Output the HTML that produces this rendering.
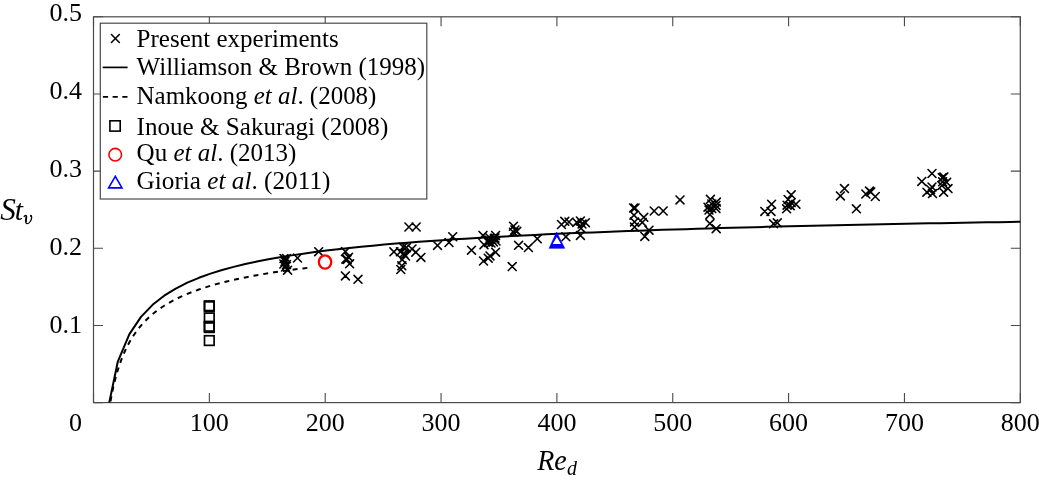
<!DOCTYPE html>
<html><head><meta charset="utf-8"><title>St vs Re</title>
<style>html,body{margin:0;padding:0;background:#fff;}body{width:1039px;height:483px;overflow:hidden;}svg{display:block;will-change:transform;}text{font-family:"Liberation Serif", serif;fill:#000;}</style></head><body>
<svg width="1039" height="483" viewBox="0 0 1039 483">
<rect x="0" y="0" width="1039" height="483" fill="#fff"/>
<defs><clipPath id="pa"><rect x="93.50" y="16.80" width="926.80" height="385.80"/></clipPath></defs>
<path d="M93.50 402.60V393.10M93.50 16.80V26.30M209.35 402.60V393.10M209.35 16.80V26.30M325.20 402.60V393.10M325.20 16.80V26.30M441.05 402.60V393.10M441.05 16.80V26.30M556.90 402.60V393.10M556.90 16.80V26.30M672.75 402.60V393.10M672.75 16.80V26.30M788.60 402.60V393.10M788.60 16.80V26.30M904.45 402.60V393.10M904.45 16.80V26.30M1020.30 402.60V393.10M1020.30 16.80V26.30M93.50 402.60H103.00M1020.30 402.60H1010.80M93.50 325.44H103.00M1020.30 325.44H1010.80M93.50 248.28H103.00M1020.30 248.28H1010.80M93.50 171.12H103.00M1020.30 171.12H1010.80M93.50 93.96H103.00M1020.30 93.96H1010.80M93.50 16.80H103.00M1020.30 16.80H1010.80" stroke="#4a4a4a" stroke-width="1.1" fill="none"/>
<rect x="93.50" y="16.80" width="926.80" height="385.80" stroke="#4a4a4a" stroke-width="1.2" fill="none"/>
<g clip-path="url(#pa)">
<polyline points="106.24,416.97 117.83,361.55 129.41,334.11 141.00,316.91 152.58,304.83 164.17,295.72 175.75,288.55 187.34,282.70 198.92,277.81 210.51,273.64 222.09,270.03 233.68,266.87 245.26,264.06 256.85,261.55 268.43,259.29 280.02,257.24 291.60,255.37 303.19,253.65 314.77,252.06 326.36,250.59 337.94,249.23 349.53,247.96 361.11,246.76 372.70,245.65 384.28,244.60 395.87,243.60 407.45,242.67 419.04,241.78 430.62,240.94 442.21,240.14 453.79,239.37 465.38,238.65 476.96,237.95 488.55,237.29 500.13,236.65 511.72,236.04 523.30,235.46 534.89,234.89 546.47,234.35 558.06,233.83 569.64,233.33 581.23,232.84 592.81,232.38 604.40,231.92 615.98,231.49 627.57,231.06 639.15,230.65 650.74,230.26 662.32,229.87 673.91,229.50 685.49,229.14 697.08,228.78 708.66,228.44 720.25,228.11 731.83,227.78 743.42,227.47 755.00,227.16 766.59,226.86 778.17,226.57 789.76,226.28 801.34,226.01 812.93,225.74 824.51,225.47 836.10,225.21 847.68,224.96 859.27,224.71 870.85,224.47 882.44,224.24 894.02,224.00 905.61,223.78 917.19,223.56 928.78,223.34 940.36,223.13 951.95,222.92 963.53,222.72 975.12,222.52 986.70,222.32 998.29,222.13 1009.87,221.94 1021.46,221.75" fill="none" stroke="#000" stroke-width="2" stroke-linejoin="round"/>
<polyline points="106.24,430.96 108.56,413.11 110.88,399.05 113.19,387.61 115.51,378.08 117.83,369.97 120.15,362.97 122.46,356.85 124.78,351.43 127.10,346.59 129.41,342.24 131.73,338.30 134.05,334.71 136.36,331.42 138.68,328.38 141.00,325.58 143.32,322.98 145.63,320.56 147.95,318.29 150.27,316.17 152.58,314.18 154.90,312.30 157.22,310.52 159.53,308.85 161.85,307.25 164.17,305.74 169.96,302.28 175.75,299.19 181.55,296.41 187.34,293.90 193.13,291.61 198.92,289.52 204.72,287.59 210.51,285.81 216.30,284.16 222.09,282.63 227.89,281.19 233.68,279.85 239.47,278.58 245.26,277.40 251.06,276.27 256.85,275.21 262.64,274.21 268.43,273.25 274.23,272.34 280.02,271.48 285.81,270.65 291.60,269.86 297.40,269.11 303.19,268.39 308.98,267.69" fill="none" stroke="#000" stroke-width="2" stroke-dasharray="5.0 4.9" stroke-dashoffset="9.55"/>
</g>
<path d="M280.05 254.55L287.95 262.45M280.05 262.45L287.95 254.55M282.55 254.55L290.45 262.45M282.55 262.45L290.45 254.55M281.05 257.55L288.95 265.45M281.05 265.45L288.95 257.55M279.85 260.05L287.75 267.95M279.85 267.95L287.75 260.05M282.55 260.55L290.45 268.45M282.55 268.45L290.45 260.55M281.55 263.05L289.45 270.95M281.55 270.95L289.45 263.05M283.65 266.25L291.55 274.15M283.65 274.15L291.55 266.25M293.55 254.05L301.45 261.95M293.55 261.95L301.45 254.05M314.75 247.75L322.65 255.65M314.75 255.65L322.65 247.75M341.45 247.65L349.35 255.55M341.45 255.55L349.35 247.65M341.85 255.15L349.75 263.05M341.85 263.05L349.75 255.15M344.65 253.25L352.55 261.15M344.65 261.15L352.55 253.25M343.25 255.55L351.15 263.45M343.25 263.45L351.15 255.55M345.65 259.85L353.55 267.75M345.65 267.75L353.55 259.85M341.45 271.95L349.35 279.85M341.45 279.85L349.35 271.95M354.05 275.35L361.95 283.25M354.05 283.25L361.95 275.35M404.95 223.05L412.85 230.95M404.95 230.95L412.85 223.05M412.25 223.05L420.15 230.95M412.25 230.95L420.15 223.05M389.95 247.85L397.85 255.75M389.95 255.75L397.85 247.85M399.25 243.15L407.15 251.05M399.25 251.05L407.15 243.15M402.45 243.65L410.35 251.55M402.45 251.55L410.35 243.65M396.45 247.85L404.35 255.75M396.45 255.75L404.35 247.85M399.65 249.65L407.55 257.55M399.65 257.55L407.55 249.65M400.65 251.05L408.55 258.95M400.65 258.95L408.55 251.05M408.05 245.05L415.95 252.95M408.05 252.95L415.95 245.05M411.85 248.25L419.75 256.15M411.85 256.15L419.75 248.25M416.95 253.45L424.85 261.35M416.95 261.35L424.85 253.45M398.25 255.75L406.15 263.65M398.25 263.65L406.15 255.75M397.85 261.85L405.75 269.75M397.85 269.75L405.75 261.85M396.85 265.55L404.75 273.45M396.85 273.45L404.75 265.55M401.55 252.05L409.45 259.95M401.55 259.95L409.45 252.05M433.55 241.45L441.45 249.35M433.55 249.35L441.45 241.45M445.05 238.55L452.95 246.45M445.05 246.45L452.95 238.55M448.75 232.75L456.65 240.65M448.75 240.65L456.65 232.75M467.55 246.25L475.45 254.15M467.55 254.15L475.45 246.25M479.05 231.45L486.95 239.35M479.05 239.35L486.95 231.45M491.65 231.45L499.55 239.35M491.65 239.35L499.55 231.45M485.05 236.05L492.95 243.95M485.05 243.95L492.95 236.05M488.05 236.05L495.95 243.95M488.05 243.95L495.95 236.05M490.05 235.05L497.95 242.95M490.05 242.95L497.95 235.05M492.05 237.05L499.95 244.95M492.05 244.95L499.95 237.05M487.05 239.05L494.95 246.95M487.05 246.95L494.95 239.05M486.05 234.05L493.95 241.95M486.05 241.95L493.95 234.05M489.55 238.05L497.45 245.95M489.55 245.95L497.45 238.05M491.05 234.05L498.95 241.95M491.05 241.95L498.95 234.05M484.55 238.55L492.45 246.45M484.55 246.45L492.45 238.55M480.05 240.75L487.95 248.65M480.05 248.65L487.95 240.75M491.65 248.25L499.55 256.15M491.65 256.15L499.55 248.25M486.05 251.95L493.95 259.85M486.05 259.85L493.95 251.95M484.25 254.25L492.15 262.15M484.25 262.15L492.15 254.25M479.55 257.05L487.45 264.95M479.55 264.95L487.45 257.05M508.25 262.65L516.15 270.55M508.25 270.55L516.15 262.65M509.55 222.25L517.45 230.15M509.55 230.15L517.45 222.25M510.95 225.95L518.85 233.85M510.95 233.85L518.85 225.95M512.85 227.35L520.75 235.25M512.85 235.25L520.75 227.35M509.55 228.25L517.45 236.15M509.55 236.15L517.45 228.25M514.65 241.35L522.55 249.25M514.65 249.25L522.55 241.35M524.45 243.65L532.35 251.55M524.45 251.55L532.35 243.65M533.35 234.85L541.25 242.75M533.35 242.75L541.25 234.85M557.55 220.55L565.45 228.45M557.55 228.45L565.45 220.55M560.85 217.35L568.75 225.25M560.85 225.25L568.75 217.35M565.05 218.05L572.95 225.95M565.05 225.95L572.95 218.05M572.85 218.45L580.75 226.35M572.85 226.35L580.75 218.45M576.45 217.05L584.35 224.95M576.45 224.95L584.35 217.05M578.05 220.05L585.95 227.95M578.05 227.95L585.95 220.05M581.45 218.75L589.35 226.65M581.45 226.65L589.35 218.75M577.05 224.35L584.95 232.25M577.05 232.25L584.95 224.35M576.45 231.45L584.35 239.35M576.45 239.35L584.35 231.45M561.95 232.85L569.85 240.75M561.95 240.75L569.85 232.85M629.65 204.05L637.55 211.95M629.65 211.95L637.55 204.05M631.15 204.05L639.05 211.95M631.15 211.95L639.05 204.05M630.05 211.25L637.95 219.15M630.05 219.15L637.95 211.25M630.55 217.95L638.45 225.85M630.55 225.85L638.45 217.95M630.55 223.15L638.45 231.05M630.55 231.05L638.45 223.15M639.85 213.35L647.75 221.25M639.85 221.25L647.75 213.35M638.35 218.45L646.25 226.35M638.35 226.35L646.25 218.45M645.05 226.25L652.95 234.15M645.05 234.15L652.95 226.25M640.85 232.45L648.75 240.35M640.85 240.35L648.75 232.45M650.25 207.05L658.15 214.95M650.25 214.95L658.15 207.05M659.25 207.05L667.15 214.95M659.25 214.95L667.15 207.05M676.05 195.95L683.95 203.85M676.05 203.85L683.95 195.95M706.45 195.35L714.35 203.25M706.45 203.25L714.35 195.35M712.45 198.15L720.35 206.05M712.45 206.05L720.35 198.15M707.85 200.05L715.75 207.95M707.85 207.95L715.75 200.05M712.05 201.45L719.95 209.35M712.05 209.35L719.95 201.45M704.05 203.25L711.95 211.15M704.05 211.15L711.95 203.25M712.05 204.65L719.95 212.55M712.05 212.55L719.95 204.65M705.05 206.05L712.95 213.95M705.05 213.95L712.95 206.05M707.85 204.65L715.75 212.55M707.85 212.55L715.75 204.65M705.95 210.75L713.85 218.65M705.95 218.65L713.85 210.75M705.95 219.65L713.85 227.55M705.95 227.55L713.85 219.65M712.25 224.75L720.15 232.65M712.25 232.65L720.15 224.75M760.85 207.45L768.75 215.35M760.85 215.35L768.75 207.45M767.65 200.25L775.55 208.15M767.65 208.15L775.55 200.25M767.05 207.45L774.95 215.35M767.05 215.35L774.95 207.45M769.65 219.85L777.55 227.75M769.65 227.75L777.55 219.85M773.35 218.85L781.25 226.75M773.35 226.75L781.25 218.85M787.25 190.85L795.15 198.75M787.25 198.75L795.15 190.85M784.15 195.55L792.05 203.45M784.15 203.45L792.05 195.55M787.25 198.65L795.15 206.55M787.25 206.55L795.15 198.65M783.15 201.25L791.05 209.15M783.15 209.15L791.05 201.25M791.95 200.25L799.85 208.15M791.95 208.15L799.85 200.25M782.65 204.85L790.55 212.75M782.65 212.75L790.55 204.85M786.25 201.75L794.15 209.65M786.25 209.65L794.15 201.75M840.55 184.65L848.45 192.55M840.55 192.55L848.45 184.65M836.45 191.95L844.35 199.85M836.45 199.85L844.35 191.95M852.45 204.85L860.35 212.75M852.45 212.75L860.35 204.85M861.85 190.05L869.75 197.95M861.85 197.95L869.75 190.05M865.55 187.15L873.45 195.05M865.55 195.05L873.45 187.15M866.85 188.05L874.75 195.95M866.85 195.95L874.75 188.05M871.35 192.55L879.25 200.45M871.35 200.45L879.25 192.55M928.05 169.55L935.95 177.45M928.05 177.45L935.95 169.55M917.85 177.45L925.75 185.35M917.85 185.35L925.75 177.45M938.35 173.65L946.25 181.55M938.35 181.55L946.25 173.65M939.95 172.95L947.85 180.85M939.95 180.85L947.85 172.95M938.65 177.85L946.55 185.75M938.65 185.75L946.55 177.85M937.95 181.65L945.85 189.55M937.95 189.55L945.85 181.65M942.65 178.35L950.55 186.25M942.65 186.25L950.55 178.35M928.05 183.05L935.95 190.95M928.05 190.95L935.95 183.05M926.65 185.45L934.55 193.35M926.65 193.35L934.55 185.45M922.95 188.25L930.85 196.15M922.95 196.15L930.85 188.25M928.55 189.65L936.45 197.55M928.55 197.55L936.45 189.65M939.65 188.25L947.55 196.15M939.65 196.15L947.55 188.25M944.05 184.65L951.95 192.55M944.05 192.55L951.95 184.65" stroke="#000" stroke-width="1.6" stroke-linecap="round" fill="none"/>
<rect x="204.50" y="300.95" width="9.60" height="9.60" fill="none" stroke="#000" stroke-width="1.7"/>
<rect x="204.50" y="301.85" width="9.60" height="9.60" fill="none" stroke="#000" stroke-width="1.7"/>
<rect x="204.50" y="313.10" width="9.60" height="9.60" fill="none" stroke="#000" stroke-width="1.7"/>
<rect x="204.50" y="321.45" width="9.60" height="9.60" fill="none" stroke="#000" stroke-width="1.7"/>
<rect x="204.50" y="322.75" width="9.60" height="9.60" fill="none" stroke="#000" stroke-width="1.7"/>
<rect x="204.50" y="335.75" width="9.60" height="9.60" fill="none" stroke="#000" stroke-width="1.7"/>
<ellipse cx="325.05" cy="262.05" rx="6.2" ry="6.6" fill="none" stroke="#f00" stroke-width="2.3"/>
<path d="M556.6 232.1L549.1 248.3H564.7ZM556.8 236.9L552.7 244.0H561.0Z" fill="#00f" fill-rule="evenodd"/>
<path d="M556.6 232.1L549.1 248.3H564.7Z" fill="none" stroke="#00f" stroke-width="0.6" stroke-linejoin="round"/>
<text x="209.35" y="431.20" font-size="26" text-anchor="middle">100</text>
<text x="325.20" y="431.20" font-size="26" text-anchor="middle">200</text>
<text x="441.05" y="431.20" font-size="26" text-anchor="middle">300</text>
<text x="556.90" y="431.20" font-size="26" text-anchor="middle">400</text>
<text x="672.75" y="431.20" font-size="26" text-anchor="middle">500</text>
<text x="788.60" y="431.20" font-size="26" text-anchor="middle">600</text>
<text x="904.45" y="431.20" font-size="26" text-anchor="middle">700</text>
<text x="1020.30" y="431.20" font-size="26" text-anchor="middle">800</text>
<text x="81.9" y="431.20" font-size="26" text-anchor="end">0</text>
<text x="81.9" y="333.40" font-size="26" text-anchor="end">0.1</text>
<text x="81.9" y="255.10" font-size="26" text-anchor="end">0.2</text>
<text x="81.9" y="176.90" font-size="26" text-anchor="end">0.3</text>
<text x="81.9" y="99.00" font-size="26" text-anchor="end">0.4</text>
<text x="81.9" y="20.80" font-size="26" text-anchor="end">0.5</text>
<text x="0.3" y="219.6" font-size="29.5" font-style="italic" transform="translate(0 219.6) scale(1.06 1.09) translate(0 -219.6)">S</text>
<text x="14.8" y="219.6" font-size="29.5" font-style="italic">t</text>
<path d="M24.2 216.6C24.7 215.5 25.6 215.1 26.2 215.5C26.7 215.9 26.5 216.9 26.3 218.2L25.9 221.2C25.7 222.8 26.1 223.7 27.3 223.7C29.4 223.5 31.6 220.2 31.7 217.3C31.7 216.1 31.3 215.3 30.8 215.3" fill="none" stroke="#000" stroke-width="1.25" stroke-linecap="round" stroke-linejoin="round"/>
<path d="M26.4 216.5L25.8 221.6" stroke="#000" stroke-width="1.7" stroke-linecap="round"/>
<ellipse cx="30.9" cy="216.0" rx="0.9" ry="1.1" fill="#000"/>
<text x="537.2" y="469.8" font-size="29.5" font-style="italic" textLength="29.5" lengthAdjust="spacingAndGlyphs">Re</text>
<text x="567.0" y="474.6" font-size="20" font-style="italic">d</text>
<rect x="100.3" y="23.2" width="326.5" height="175.8" fill="#fff" stroke="#4a4a4a" stroke-width="1.2"/>
<path d="M111.45 34.55L119.35 42.45M111.45 42.45L119.35 34.55" stroke="#000" stroke-width="1.6" stroke-linecap="round" fill="none"/>
<path d="M102.7 67.4H127.6" stroke="#000" stroke-width="1.7"/>
<path d="M102.9 96.8H128" stroke="#000" stroke-width="1.7" stroke-dasharray="5.2 4.5"/>
<rect x="109.9" y="120.8" width="10.3" height="10.3" fill="none" stroke="#000" stroke-width="1.6"/>
<circle cx="115.2" cy="154.7" r="6.3" fill="none" stroke="#f00" stroke-width="1.6"/>
<path d="M115.3 176.3L108.6 187.9H122Z" fill="none" stroke="#00f" stroke-width="1.6"/>
<text x="136.60" y="47.30" font-size="26" textLength="202.1" lengthAdjust="spacingAndGlyphs">Present experiments</text>
<text x="136.60" y="75.20" font-size="26" textLength="288.6" lengthAdjust="spacingAndGlyphs">Williamson &amp; Brown (1998)</text>
<text x="136.60" y="103.60" font-size="26" textLength="239.8" lengthAdjust="spacingAndGlyphs">Namkoong <tspan font-style="italic">et al</tspan>. (2008)</text>
<text x="136.60" y="134.60" font-size="26" textLength="251.7" lengthAdjust="spacingAndGlyphs">Inoue &amp; Sakuragi (2008)</text>
<text x="136.60" y="160.60" font-size="26" textLength="159.8" lengthAdjust="spacingAndGlyphs">Qu <tspan font-style="italic">et al</tspan>. (2013)</text>
<text x="136.60" y="188.60" font-size="26" textLength="193.8" lengthAdjust="spacingAndGlyphs">Gioria <tspan font-style="italic">et al</tspan>. (2011)</text>
</svg></body></html>
